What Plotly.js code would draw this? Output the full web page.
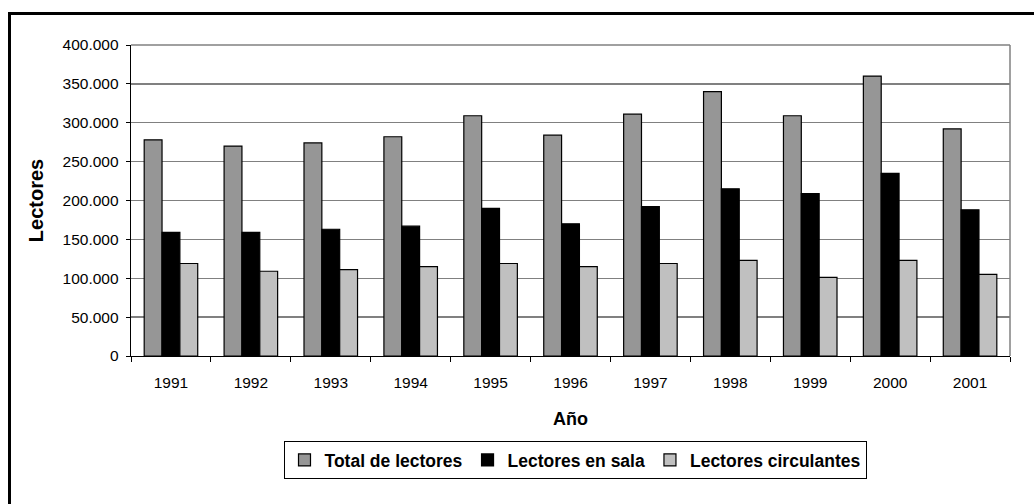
<!DOCTYPE html>
<html>
<head>
<meta charset="utf-8">
<script src="https://cdn.plot.ly/plotly-3.0.1.min.js"></script>
<style>
html,body{margin:0;padding:0;background:#fff;}
#chart{width:1034px;height:504px;}
</style>
</head>
<body>
<div id="chart"></div>
<script>
const years = ['1991','1992','1993','1994','1995','1996','1997','1998','1999','2000','2001'];
const totalLectores = [278000, 270000, 274000, 282000, 309000, 284000, 311000, 340000, 309000, 360000, 292000];
const lectoresSala = [159000, 159000, 163000, 167000, 190000, 170000, 192000, 215000, 209000, 235000, 188000];
const lectoresCirculantes = [119000, 109000, 111000, 115000, 119000, 115000, 119000, 123000, 101000, 123000, 105000];
const seriesNames = ['Total de lectores', 'Lectores en sala', 'Lectores circulantes'];
const yTicks = [0, 50000, 100000, 150000, 200000, 250000, 300000, 350000, 400000];

const FONT = 'Liberation Sans, Arial, sans-serif';

function bar(name, y, color) {
  return {
    type: 'bar', name: name, x: years, y: y,
    marker: {color: color, line: {color: '#000', width: 1.2}},
    hoverinfo: 'x+y+name'
  };
}

const data = [
  bar(seriesNames[0], totalLectores, '#969696'),
  bar(seriesNames[1], lectoresSala, '#000000'),
  bar(seriesNames[2], lectoresCirculantes, '#c0c0c0')
];

const L = 131, R = 1010, T = 45, B = 356;
const W = R - L, H = B - T;
const px = v => (v - L) / W;
const py = v => (B - v) / H;

const layout = {
  width: 1034, height: 504,
  margin: {l: L, r: 1034 - R, t: T, b: 504 - B, pad: 0},
  paper_bgcolor: '#fff', plot_bgcolor: '#fff',
  separators: ',.',
  font: {family: FONT, color: '#000', size: 15},
  barmode: 'group', bargap: 0.33, bargroupgap: 0,
  showlegend: true,
  legend: {
    orientation: 'h', x: px(575), xanchor: 'center', y: py(441), yanchor: 'top',
    bordercolor: '#000', borderwidth: 1, bgcolor: '#fff',
    font: {family: FONT, size: 17.5, color: '#000', weight: 'bold'},
    traceorder: 'normal', itemclick: false, itemwidth: 30
  },
  xaxis: {
    type: 'category', showgrid: false, showline: true, linecolor: '#000', linewidth: 1,
    ticks: 'outside', tickson: 'boundaries', ticklen: 5, tickcolor: '#000',
    ticklabelstandoff: 12,
    tickfont: {family: FONT, size: 15.5, color: '#000'},
    title: {text: 'Año', font: {family: FONT, size: 18, color: '#000', weight: 'bold'}, standoff: 22},
    automargin: false, fixedrange: true
  },
  yaxis: {
    range: [0, 400000], tickvals: yTicks, tickformat: ',d',
    showgrid: true, gridcolor: '#808080', gridwidth: 1.3,
    showline: true, linecolor: '#000', linewidth: 1.3,
    ticks: 'outside', ticklen: 4, tickcolor: '#000',
    ticklabelstandoff: 4,
    tickfont: {family: FONT, size: 15.5, color: '#000'},
    zeroline: false,
    title: {text: 'Lectores', font: {family: FONT, size: 20, color: '#000', weight: 'bold'}, standoff: 13},
    automargin: false, fixedrange: true
  },
  shapes: [
    {type: 'line', xref: 'paper', yref: 'paper', x0: 0, x1: 1, y0: 1, y1: 1, line: {color: '#808080', width: 1.5}},
    {type: 'line', xref: 'paper', yref: 'paper', x0: 1, x1: 1, y0: 0, y1: 1, line: {color: '#808080', width: 1.5}},
    {type: 'rect', xref: 'paper', yref: 'paper', layer: 'above',
     x0: px(9.5), x1: px(1045), y0: py(520), y1: py(13.5),
     line: {color: '#000', width: 3}, fillcolor: 'rgba(0,0,0,0)'}
  ]
};

Plotly.newPlot('chart', data, layout, {displayModeBar: false, staticPlot: true});
</script>
</body>
</html>
